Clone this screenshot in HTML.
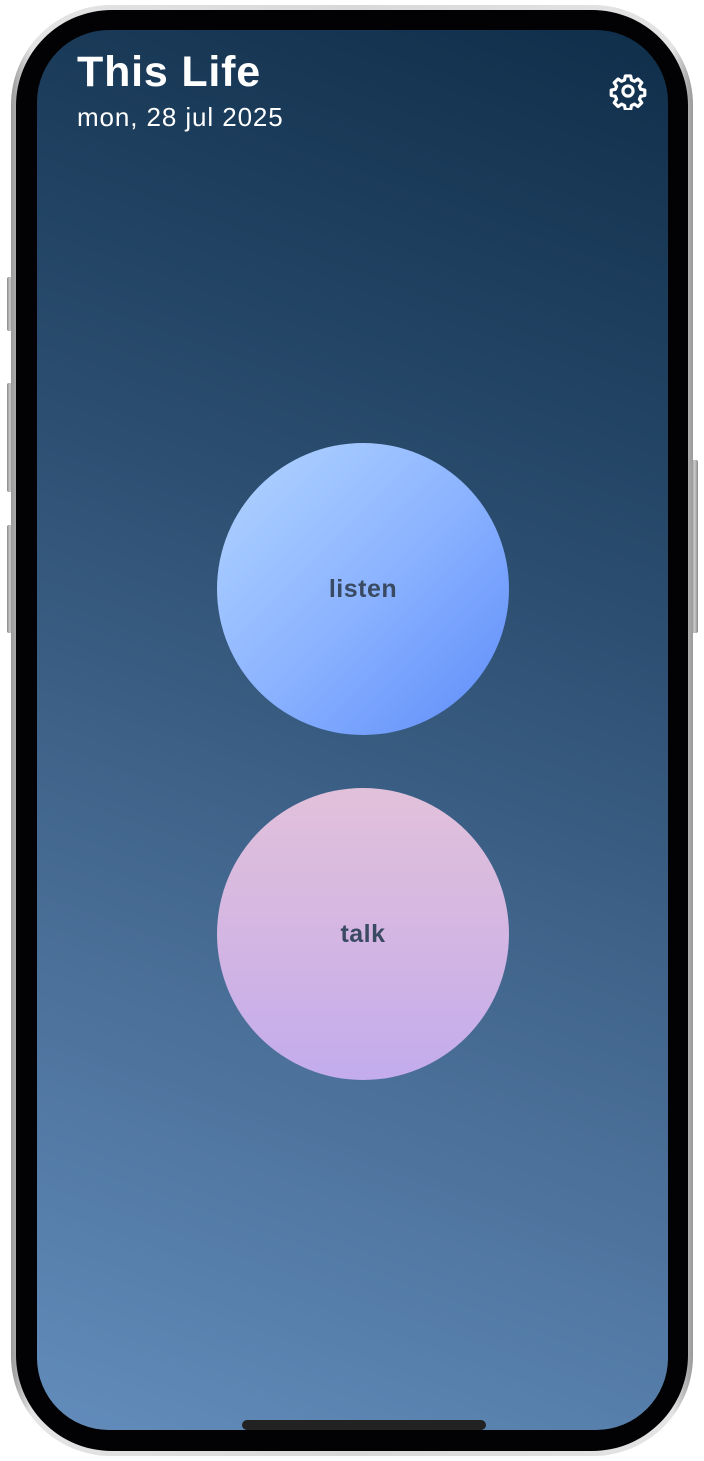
<!DOCTYPE html>
<html><head><meta charset="utf-8"><style>
html,body{margin:0;padding:0;width:704px;height:1461px;background:#fff;overflow:hidden;font-family:"Liberation Sans",sans-serif}
.btn{position:absolute;background:linear-gradient(90deg,#888,#ccc,#888);border-radius:2px}
.frame{position:absolute;left:11px;top:5px;width:682px;height:1451px;border-radius:100px;background:linear-gradient(90deg,#9a9a9a,#e4e4e4 3%,#d8d8d8 50%,#e4e4e4 97%,#9a9a9a);}
.bezel{position:absolute;left:16px;top:10px;width:672px;height:1441px;border-radius:96px;background:#020204}
.screen{position:absolute;left:37px;top:30px;width:631px;height:1400px;border-radius:72px;overflow:hidden;
background:linear-gradient(200deg,#0f2e4a 0%,#2a4c6e 35%,#4a6f98 70%,#628cbb 100%)}
.t{position:absolute;color:#fff}
.c{position:absolute;border-radius:50%;width:292px;height:292px;display:flex;align-items:center;justify-content:center;font-weight:bold;font-size:25px;color:#3a4a63;letter-spacing:0.5px}
</style></head><body>
<div class="btn" style="left:7px;top:277px;width:6px;height:54px"></div>
<div class="btn" style="left:7px;top:383px;width:6px;height:109px"></div>
<div class="btn" style="left:7px;top:525px;width:6px;height:108px"></div>
<div class="btn" style="left:691px;top:460px;width:7px;height:173px"></div>
<div class="frame"></div>
<div class="bezel"></div>
<div class="screen">
<div class="t" style="left:40px;top:18px;font-size:43px;font-weight:bold;letter-spacing:0.8px">This Life</div>
<div class="t" style="left:40px;top:72px;font-size:26px;letter-spacing:0.9px">mon, 28 jul 2025</div>
<svg style="position:absolute;left:572px;top:42px" width="38" height="38" viewBox="0 0 24 24" fill="none" stroke="#fff" stroke-width="2" stroke-linejoin="round"><path d="M10.3 2.5h3.4l.5 2.6 1.9.8 2.2-1.5 2.4 2.4-1.5 2.2.8 1.9 2.6.5v3.4l-2.6.5-.8 1.9 1.5 2.2-2.4 2.4-2.2-1.5-1.9.8-.5 2.6h-3.4l-.5-2.6-1.9-.8-2.2 1.5-2.4-2.4 1.5-2.2-.8-1.9-2.6-.5v-3.4l2.6-.5.8-1.9-1.5-2.2 2.4-2.4 2.2 1.5 1.9-.8z"/><circle cx="12" cy="12" r="3.2"/></svg>
<div class="c" style="left:180px;top:413px;background:linear-gradient(135deg,#b4d6ff 0%,#8cb4ff 50%,#5e8cfa 100%)"><span>listen</span></div>
<div class="c" style="left:180px;top:758px;background:linear-gradient(180deg,#e1c1da 0%,#d4b6e2 50%,#c3aced 100%)"><span>talk</span></div>
<div style="position:absolute;left:205px;top:1390px;width:244px;height:10px;border-radius:5px;background:#222"></div>
</div>
</body></html>
